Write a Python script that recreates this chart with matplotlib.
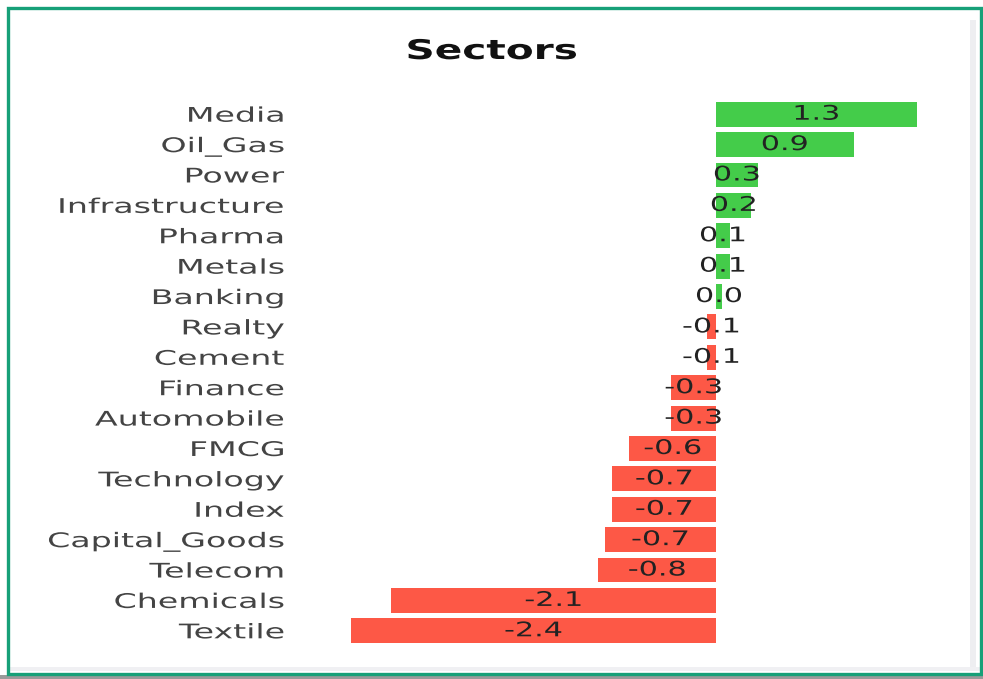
import matplotlib
matplotlib.use("Agg")
import matplotlib.pyplot as plt
from matplotlib.patheffects import AbstractPathEffect
from matplotlib.transforms import Affine2D
from matplotlib.patches import Rectangle

sectors = ["Media", "Oil_Gas", "Power", "Infrastructure", "Pharma", "Metals",
           "Banking", "Realty", "Cement", "Finance", "Automobile", "FMCG",
           "Technology", "Index", "Capital_Goods", "Telecom", "Chemicals", "Textile"]
values = [1.30, 0.89, 0.27, 0.23, 0.09, 0.09, 0.04, -0.06, -0.06, -0.29, -0.29,
          -0.56, -0.67, -0.67, -0.72, -0.76, -2.10, -2.36]

GREEN = "#44cc4a"
RED = "#fd5846"


class HStretch(AbstractPathEffect):
    """Stretch glyphs horizontally about left / center / right of the text."""
    def __init__(self, sx, anchor="center"):
        super().__init__()
        self.sx = sx
        self.anchor = anchor

    def draw_path(self, renderer, gc, tpath, affine, rgbFace=None):
        ext = tpath.get_extents()
        if self.anchor == "right":
            cx = ext.x1
        elif self.anchor == "left":
            cx = ext.x0
        else:
            cx = 0.5 * (ext.x0 + ext.x1)
        t = Affine2D().translate(-cx, 0).scale(self.sx, 1).translate(cx, 0)
        renderer.draw_path(gc, tpath, t + affine, rgbFace)


fig = plt.figure(figsize=(9.83, 6.79), dpi=100)
W, H = 983, 679

# axes placement in pixels
ax_left_px, ax_right_px = 290, 963
ax_top_px, ax_bot_px = 99, 646
ax = fig.add_axes([ax_left_px / W, 1 - ax_bot_px / H,
                   (ax_right_px - ax_left_px) / W, (ax_bot_px - ax_top_px) / H])

ypos = list(range(len(sectors)))
colors = [GREEN if v >= 0 else RED for v in values]
bars = ax.barh(ypos, values, height=0.82, color=colors, edgecolor="none")
ax.set_ylim(len(sectors) - 0.5, -0.5)
ax.set_xlim(-2.755, 1.598)

ax.set_yticks(ypos)
ax.set_yticklabels(sectors, fontsize=14.5, color="#444444")
ax.tick_params(axis="y", length=0, pad=4)
for lbl in ax.get_yticklabels():
    lbl.set_path_effects([HStretch(1.65, "right")])
ax.set_xticks([])
for s in ax.spines.values():
    s.set_visible(False)

txts = ax.bar_label(bars, labels=[f"{v:.1f}" for v in values], label_type="center",
                    fontsize=14.5, color="#222222")
for t in txts:
    t.set_path_effects([HStretch(1.5, "center")])

title = fig.text(492 / W, 1 - 52 / H, "Sectors", ha="center", va="center",
                 fontsize=19.5, fontweight="bold", color="#111111")
title.set_path_effects([HStretch(1.5, "center")])

# subtle grey shadow strips
fig.patches.append(Rectangle((970 / W, 1 - 668 / H), 6 / W, (668 - 20) / H,
                             transform=fig.transFigure, facecolor="#eeeef1",
                             edgecolor="none", zorder=0))
fig.patches.append(Rectangle((10 / W, 1 - 671 / H), (981 - 10) / W, 4 / H,
                             transform=fig.transFigure, facecolor="#f0f0f3",
                             edgecolor="none", zorder=0))
fig.patches.append(Rectangle((0, 0), 1, 4 / H, transform=fig.transFigure,
                             facecolor="#9a9a9a", edgecolor="none", zorder=0))
# green frame
fig.patches.append(Rectangle((8 / W, 1 - 673.5 / H), (981 - 8) / W, (673.5 - 8) / H,
                             transform=fig.transFigure, facecolor="none",
                             edgecolor="#17a078", linewidth=2.4, zorder=5))

fig.savefig("out.png", dpi=100)
